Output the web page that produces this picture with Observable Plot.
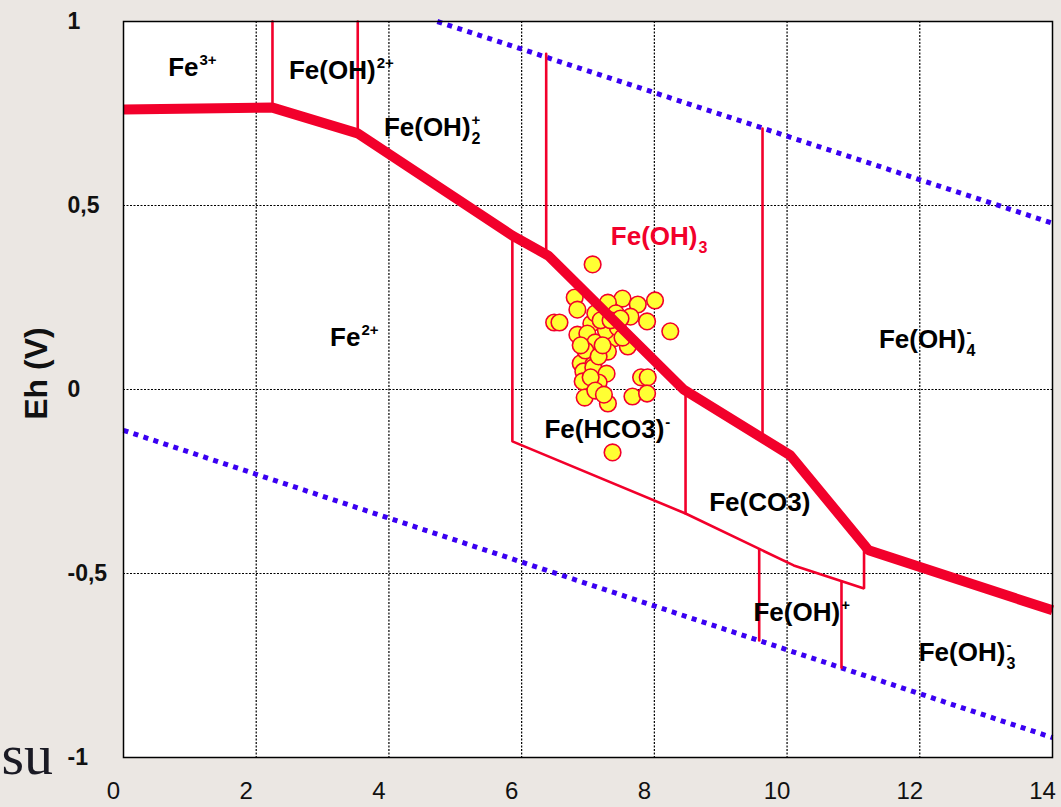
<!DOCTYPE html>
<html>
<head>
<meta charset="utf-8">
<script src="https://cdn.jsdelivr.net/npm/d3@7"></script>
<script src="https://cdn.jsdelivr.net/npm/@observablehq/plot@0.6"></script>
<style>
  html, body { margin: 0; padding: 0; }
  body { background: #ebe7e3; width: 1061px; height: 807px; overflow: hidden; }
  #chart { position: absolute; left: 0; top: 0; }
</style>
</head>
<body>
<div id="chart"></div>
<script>
const xTicks = [0, 2, 4, 6, 8, 10, 12, 14];
const yTicks = [-1, -0.5, 0, 0.5, 1];

// Main Fe(III)/Fe(II) boundary (thick red)
const mainPH = [0, 2.245, 3.53, 5.86, 6.40, 8.44, 10.05, 11.23, 14];
const mainEh = [0.761, 0.766, 0.696, 0.418, 0.364, 0.0, -0.179, -0.437, -0.60];

// Thin red boundaries between species
const boundaryId = ["a","a","b","b","c","c","d","d","e","e","e","e","e","e","f","f","g","g","h","h"];
const boundaryPH = [2.245, 2.245, 3.53, 3.53, 6.37, 6.37, 9.63, 9.63,
                    5.86, 5.86, 8.47, 10.10, 11.16, 11.16,
                    8.47, 8.47, 9.58, 9.58, 10.82, 10.82];
const boundaryEh = [1.0, 0.766, 1.0, 0.696, 0.912, 0.370, 0.709, -0.135,
                    0.418, -0.141, -0.337, -0.478, -0.541, -0.437,
                    -0.008, -0.337, -0.434, -0.682, -0.521, -0.756];

// Water stability limits (blue dotted)
const waterId = ["upper", "upper", "lower", "lower"];
const waterPH = [4.73, 14, 0, 14];
const waterEh = [1.0, 0.452, -0.111, -0.946];

// Samples (yellow circles)
const samplePH = [7.07, 6.80, 6.84, 6.49, 6.57, 7.52, 7.30, 7.75, 8.01, 7.89, 8.24, 7.42, 7.64,
                  7.05, 7.11, 6.84, 6.99, 7.11, 7.60, 7.39, 7.30, 6.89, 7.08, 6.93, 7.08, 7.28,
                  6.92, 7.16, 7.04, 6.95, 7.30, 7.80, 7.90, 7.67, 7.89, 7.37, 7.27, 7.45, 7.52,
                  7.19, 7.34, 6.96, 7.16, 7.22, 7.49, 6.89, 7.11, 7.24];
const sampleEh = [0.340, 0.250, 0.217, 0.182, 0.182, 0.247, 0.236, 0.231, 0.242, 0.185, 0.158, 0.207, 0.198,
                  0.179, 0.207, 0.149, 0.152, 0.128, 0.117, 0.139, 0.103, 0.071, 0.068, 0.049, 0.060, 0.043,
                  0.022, 0.019, 0.033, -0.022, -0.038, 0.033, 0.033, -0.019, -0.011, -0.171, 0.160, 0.168, 0.141,
                  0.188, 0.188, 0.106, 0.090, 0.120, 0.193, 0.120, -0.003, -0.014];

// Species labels: base text ends at (pH, Eh); sub/superscripts start there
const labelBase = ["Fe", "Fe(OH)", "Fe(OH)", "Fe(OH)", "Fe", "Fe(OH)", "Fe(HCO3)", "Fe(CO3)", "Fe(OH)", "Fe(OH)"];
const labelSup  = ["3+", "2+", "+", "", "2+", "-", "-", "", "+", "-"];
const labelSub  = ["", "", "2", "3", "", "4", "", "", "", "3"];
const labelPH   = [1.13, 3.80, 5.23, 8.65, 3.57, 12.69, 8.15, 10.35, 10.80, 13.29];
const labelEh   = [0.875, 0.867, 0.712, 0.416, 0.141, 0.136, -0.109, -0.307, -0.606, -0.715];
const labelRed  = [false, false, false, true, false, false, false, false, false, false];

// ---- Build tables ----
const RED = "#f2002b";
const BLUE = "#3a00f2";
const FONT = "'Liberation Sans', Arial, Helvetica, sans-serif";

const main = mainPH.map((x, i) => ({x, y: mainEh[i]}));
const bounds = boundaryPH.map((x, i) => ({id: boundaryId[i], x, y: boundaryEh[i]}));
const water = waterPH.map((x, i) => ({id: waterId[i], x, y: waterEh[i]}));
const samples = samplePH.map((x, i) => ({x, y: sampleEh[i]}));
const labels = labelBase.map((t, i) => ({
  base: t, sup: labelSup[i], sub: labelSub[i], x: labelPH[i], y: labelEh[i],
  color: labelRed[i] ? RED : "black"
}));

const plot = Plot.plot({
  width: 1061,
  height: 807,
  marginLeft: 123,
  marginRight: 9,
  marginTop: 21,
  marginBottom: 50,
  style: {background: "transparent", fontFamily: FONT, overflow: "visible"},
  x: {domain: [0, 14]},
  y: {domain: [-1, 1]},
  marks: [
    Plot.frame({fill: "white", stroke: null}),
    Plot.gridX({ticks: [2, 4, 6, 8, 10, 12], stroke: "black", strokeOpacity: 1, strokeWidth: 1.2, strokeDasharray: "2,1.5"}),
    Plot.gridY({ticks: [-0.5, 0, 0.5, 1], stroke: "black", strokeOpacity: 1, strokeWidth: 1.2, strokeDasharray: "2,1.5"}),
    Plot.line(water, {x: "x", y: "y", z: "id", stroke: BLUE, strokeWidth: 5, strokeDasharray: "5,5.5", strokeLinecap: "butt"}),
    Plot.dot(samples, {x: "x", y: "y", r: 8.3, fill: "#ffff33", stroke: RED, strokeWidth: 1.6}),
    Plot.line(bounds, {x: "x", y: "y", z: "id", stroke: RED, strokeWidth: 2.6, strokeLinejoin: "miter"}),
    Plot.line(main, {x: "x", y: "y", stroke: RED, strokeWidth: 10, strokeLinejoin: "miter", strokeLinecap: "butt"}),
    Plot.text(labels, {x: "x", y: "y", text: "base", fill: "color", textAnchor: "end", fontSize: 26, fontWeight: "bold"}),
    Plot.text(labels.filter(d => d.sup), {x: "x", y: "y", text: "sup", fill: "color", textAnchor: "start", fontSize: 15, fontWeight: "bold", dx: 1, dy: -7}),
    Plot.text(labels.filter(d => d.sub), {x: "x", y: "y", text: "sub", fill: "color", textAnchor: "start", fontSize: 16, fontWeight: "bold", dx: 1, dy: 11}),
    Plot.frame({stroke: "black", strokeWidth: 1.5}),
    Plot.axisX({ticks: xTicks, tickSize: 0, tickPadding: 24, fontSize: 24, fontWeight: "normal", tickFormat: d => String(d), label: null, dx: -10, fill: "#111"}),
    Plot.axisY({ticks: yTicks, tickSize: 0, tickPadding: 56, textAnchor: "start", fontSize: 23, fontWeight: "bold", tickFormat: d => String(d).replace(".", ","), label: null, fill: "#111"}),
    Plot.text(["Eh (V)"], {frameAnchor: "left", textAnchor: "middle", rotate: -90, dx: -87, dy: -16, fontSize: 32, fontWeight: "bold", fill: "#111"}),
    Plot.text(["su"], {frameAnchor: "bottom-left", textAnchor: "start", lineAnchor: "bottom", dx: -122, dy: 16, fontSize: 58, fontFamily: "'Liberation Serif', 'Times New Roman', serif", fill: "#1a1a24"})
  ]
});
document.getElementById("chart").appendChild(plot);
</script>
</body>
</html>
